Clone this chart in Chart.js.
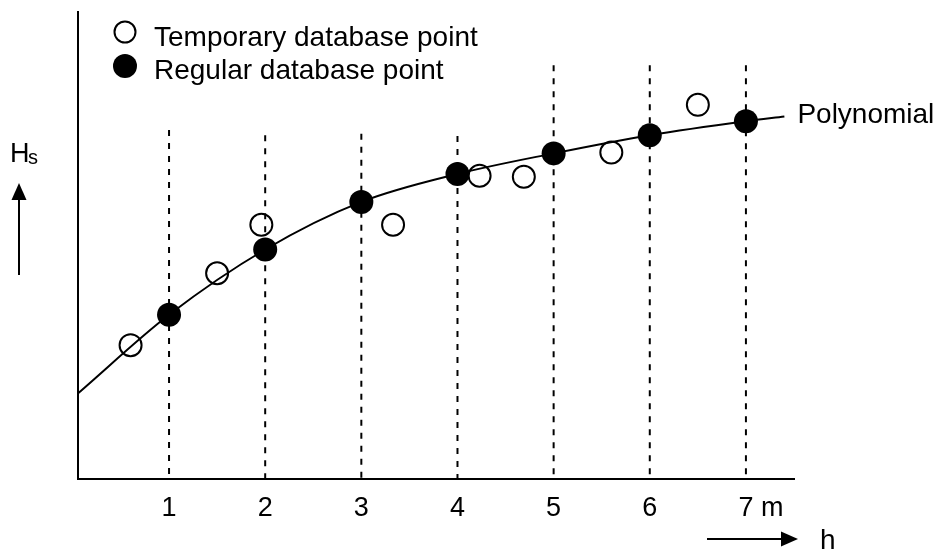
<!DOCTYPE html>
<html>
<head>
<meta charset="utf-8">
<script src="https://cdn.jsdelivr.net/npm/chart.js@4.4.0/dist/chart.umd.min.js"></script>
<style>
  html, body { margin: 0; padding: 0; background: #fff; }
  #wrap { width: 938px; height: 552px; }
</style>
</head>
<body>
<div id="wrap"><canvas id="c" width="938" height="552"></canvas></div>
<script>
// h axis: tick positions and their labels (unit shown after the last one)
const tickValues = [1, 2, 3, 4, 5, 6, 7];
const tickLabels = ['1', '2', '3', '4', '5', '6', '7'];
const xUnit = 'm';

// top end of each dashed vertical guide (in Hs units)
const guideTops = [7.47, 7.36, 7.39, 7.34, 8.86, 8.86, 8.86];

// temporary database points
const tempX = [0.6, 1.5, 1.96, 3.33, 4.23, 4.69, 5.6, 6.5];
const tempY = [2.86, 4.40, 5.44, 5.44, 6.49, 6.47, 6.99, 8.01];

// regular database points
const regX = [1, 2, 3, 4, 5, 6, 7];
const regY = [3.51, 4.91, 5.93, 6.53, 6.97, 7.36, 7.66];

// polynomial through the regular points
const curveX = [0.055, 1, 2, 3, 4, 5, 6, 7, 7.4];
const curveY = [1.83, 3.51, 4.91, 5.93, 6.53, 6.97, 7.36, 7.66, 7.76];

const FONT = '"Liberation Sans", Arial, Helvetica, sans-serif';
const TICK_SIZE = 27;
const TICK_PAD = 14;
const pts = (xs, ys) => xs.map((x, i) => ({ x: x, y: ys[i] }));

const guideSets = tickValues.map((x, i) => ({
  label: 'guide ' + x,
  data: [{ x: x, y: guideTops[i] }, { x: x, y: 0 }],
  showLine: true,
  borderColor: '#000',
  borderWidth: 2,
  borderDash: [6, 7],
  pointRadius: 0,
  order: 3
}));

const datasets = [
  {
    label: 'Regular database point',
    data: pts(regX, regY),
    showLine: false,
    pointRadius: 12,
    pointBackgroundColor: '#000',
    pointBorderColor: '#000',
    pointBorderWidth: 0,
    order: 0,
    clip: false
  },
  {
    label: 'Temporary database point',
    data: pts(tempX, tempY),
    showLine: false,
    pointRadius: 11,
    pointBackgroundColor: 'rgba(0,0,0,0)',
    pointBorderColor: '#000',
    pointBorderWidth: 2,
    order: 1,
    clip: false
  },
  {
    label: 'Polynomial',
    data: pts(curveX, curveY),
    showLine: true,
    borderColor: '#000',
    borderWidth: 2,
    cubicInterpolationMode: 'monotone',
    pointRadius: 0,
    order: 2
  }
].concat(guideSets);

// free text and arrows: legend, curve name, axis names with arrows, unit
const annotations = {
  id: 'annotations',
  afterDraw(chart) {
    const ctx = chart.ctx;
    const xs = chart.scales.x, ys = chart.scales.y;
    ctx.save();
    ctx.fillStyle = '#000';
    ctx.strokeStyle = '#000';
    ctx.textAlign = 'left';
    ctx.textBaseline = 'alphabetic';

    // legend
    const temp = chart.data.datasets[1], reg = chart.data.datasets[0];
    ctx.lineWidth = 2;
    ctx.beginPath(); ctx.arc(125, 32, 10.5, 0, Math.PI * 2); ctx.stroke();
    ctx.beginPath(); ctx.arc(125, 66, 12, 0, Math.PI * 2); ctx.fill();
    ctx.font = '28px ' + FONT;
    ctx.fillText(temp.label, 154, 46);
    ctx.fillText(reg.label, 154, 79);

    // curve name at the end of the polynomial
    const poly = chart.data.datasets[2];
    const last = poly.data[poly.data.length - 1];
    ctx.fillText(poly.label, xs.getPixelForValue(last.x) + 13, ys.getPixelForValue(last.y) + 6.5);

    // unit after the last tick label
    ctx.font = TICK_SIZE + 'px ' + FONT;
    const lastTick = tickValues[tickValues.length - 1];
    const lx = xs.getPixelForValue(lastTick) + ctx.measureText(tickLabels[tickLabels.length - 1]).width / 2 + ctx.measureText(' ').width;
    ctx.textBaseline = 'middle';
    ctx.fillText(xUnit, lx, xs.top + TICK_PAD + TICK_SIZE * 0.6);
    ctx.textBaseline = 'alphabetic';

    // vertical arrow and Hs
    ctx.lineWidth = 2;
    ctx.beginPath(); ctx.moveTo(19, 275); ctx.lineTo(19, 198); ctx.stroke();
    ctx.beginPath(); ctx.moveTo(19, 183); ctx.lineTo(26.5, 200); ctx.lineTo(11.5, 200); ctx.closePath(); ctx.fill();
    ctx.font = '27px ' + FONT;
    ctx.fillText('H', 10, 162);
    ctx.font = '20px ' + FONT;
    ctx.fillText('s', 28, 164);

    // horizontal arrow and h
    ctx.beginPath(); ctx.moveTo(707, 539); ctx.lineTo(784, 539); ctx.stroke();
    ctx.beginPath(); ctx.moveTo(798, 539); ctx.lineTo(781, 531.5); ctx.lineTo(781, 546.5); ctx.closePath(); ctx.fill();
    ctx.font = '28px ' + FONT;
    ctx.fillText('h', 820, 549);
    ctx.restore();
  }
};

new Chart(document.getElementById('c'), {
  type: 'line',
  data: { datasets: datasets },
  options: {
    responsive: false,
    animation: false,
    events: [],
    layout: { padding: { left: 77.7, top: 12, right: 144, bottom: 0 }, autoPadding: false },
    plugins: { legend: { display: false }, tooltip: { enabled: false } },
    scales: {
      x: {
        type: 'linear',
        min: 0.05,
        max: 7.5,
        afterBuildTicks(scale) { scale.ticks = tickValues.map(v => ({ value: v })); },
        afterFit(scale) { scale.height = 552 - 478.6; },
        ticks: {
          color: '#000',
          padding: TICK_PAD,
          font: { family: FONT, size: TICK_SIZE },
          maxRotation: 0,
          autoSkip: false,
          callback: (v) => tickLabels[tickValues.indexOf(v)] ?? ''
        },
        grid: { display: false, drawTicks: false, tickLength: 0 },
        border: { display: true, color: '#000', width: 2 }
      },
      y: {
        type: 'linear',
        min: 0,
        max: 10,
        afterFit(scale) { scale.width = 0; },
        ticks: { display: false },
        grid: { display: false, drawTicks: false, tickLength: 0 },
        border: { display: true, color: '#000', width: 2 }
      }
    }
  },
  plugins: [annotations]
});
</script>
</body>
</html>
